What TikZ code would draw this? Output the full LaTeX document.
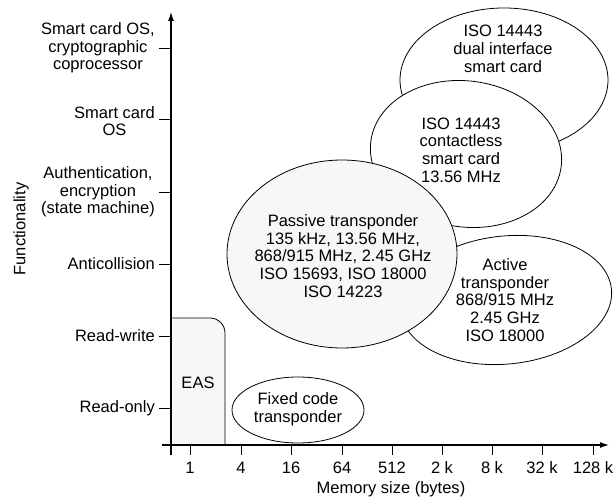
\documentclass[tikz,border=0pt]{standalone}
\usepackage{fontspec}
\setmainfont{Liberation Sans}
\usetikzlibrary{shapes.geometric,arrows.meta}
\begin{document}
\begin{tikzpicture}[x=1pt,y=-1pt,
  lbl/.style={font=\fontsize{16.5}{17.7}\selectfont, align=center, inner sep=0pt},
  ell/.style={draw=black, line width=0.8pt, ellipse, inner sep=0pt, fill=white},
  axisline/.style={line width=1.1pt, -{Latex[length=9pt,width=6pt]}},
  tickline/.style={line width=0.9pt},
  stip/.style={fill=black!3}]
\useasboundingbox (0,0) rectangle (615,502);

% ellipses
\node[ell, minimum width=208, minimum height=144] (dual) at (504,80) {};
\node[ell, minimum width=192, minimum height=146, rotate=-8] (cless) at (466,154) {};
\node[ell, minimum width=212, minimum height=128, rotate=6] (active) at (506,300) {};
\node[ell, stip, minimum width=230, minimum height=188] (passive) at (342,254) {};
\node[ell, minimum width=132, minimum height=66] (fixed) at (298,410) {};

% EAS region
\draw[stip, line width=0.8pt] (171,445) -- (171,318) -- (210,318)
  .. controls (218.3,318) and (225,324.7) .. (225,333) -- (225,445);

% texts in regions
\node[lbl] (dualT) at (503,49) {ISO 14443\\dual interface\\smart card};
\node[lbl] (clessT) at (461,150) {ISO 14443\\contactless\\smart card\\13.56 MHz};
\node[lbl] (activeT) at (505,300) {Active\\transponder\\868/915 MHz\\2.45 GHz\\ISO 18000};
\node[lbl] (passiveT) at (343,256) {Passive transponder\\135 kHz, 13.56 MHz,\\868/915 MHz, 2.45 GHz\\ISO 15693, ISO 18000\\ISO 14223};
\node[lbl] (fixedT) at (298,409) {Fixed code\\transponder};
\node[lbl] (easT) at (198,383) {EAS};

% axes
\coordinate (xs) at (162,445);
\coordinate (xe) at (609,445);
\coordinate (ys) at (171,455);
\coordinate (ye) at (171,12);
\draw[axisline] (xs) -- (xe);
\draw[axisline] (ys) -- (ye);

% x ticks
\foreach \x/\t [count=\i] in {190/1, 241/4, 291/16, 342/64, 392/512, 442/2 k, 492/8 k, 542/32 k, 593/128 k} {
  \draw[tickline] (\x,445) -- (\x,455);
  \node[lbl] (xt\i) at (\x,468) {\t};
}

% y ticks
\foreach \y in {48,119,192,264,336,408} {
  \draw[tickline] (159,\y) -- (171,\y);
}
\node[lbl, anchor=east] (y6) at (155,48) {Smart card OS,\\cryptographic\\coprocessor};
\node[lbl, anchor=east] (y5) at (155,121) {Smart card\\OS};
\node[lbl, anchor=east] (y4) at (155,192) {Authentication,\\encryption\\(state machine)};
\node[lbl, anchor=east] (y3) at (155,264) {Anticollision};
\node[lbl, anchor=east] (y2) at (155,336) {Read-write};
\node[lbl, anchor=east] (y1) at (155,408) {Read-only};

\node[lbl, rotate=90] (ylab) at (21,229) {Functionality};
\node[lbl] (xlab) at (391,489) {Memory size (bytes)};
\end{tikzpicture}
\end{document}
